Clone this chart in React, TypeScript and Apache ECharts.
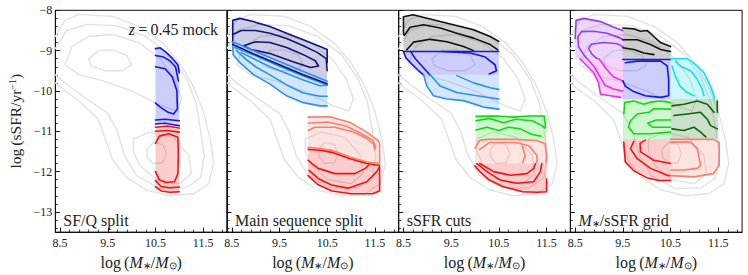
import React, { useEffect, useRef } from 'react';
import * as echarts from 'echarts';

type Pt = [number, number];

// ---------- axes ----------
const X_MIN = 8.4, X_MAX = 12.0, Y_MIN = -13.5, Y_MAX = -8;
const xMajor = [8.5, 9.5, 10.5, 11.5];
const xMinor = [8.7, 8.9, 9.1, 9.3, 9.7, 9.9, 10.1, 10.3, 10.7, 10.9, 11.1, 11.3, 11.7, 11.9];
const yMajor = [-13, -12, -11, -10, -9, -8];
const yMinor = [-13.4, -13.2, -12.8, -12.6, -12.4, -12.2, -11.8, -11.6, -11.4, -11.2, -10.8, -10.6, -10.4, -10.2, -9.8, -9.6, -9.4, -9.2, -8.8, -8.6, -8.4, -8.2];
const panelLabels = ['SF/Q split', 'Main sequence split', 'sSFR cuts', '{i|M}{s|∗}/sSFR grid'];

// ---------- grey background contours (full mock) ----------
const grey1: Pt[] = [[8.4,-8.65],[8.6,-8.25],[8.9,-8.1],[9.6,-8.15],[10.15,-8.4],[10.64,-8.8],[11.0,-9.3],[11.3,-9.9],[11.5,-10.5],[11.65,-11.2],[11.72,-11.8],[11.62,-12.3],[11.3,-12.55],[10.8,-12.6],[10.3,-12.45],[9.9,-12.15],[9.6,-11.7],[9.42,-11.1],[9.3,-10.7],[8.9,-10.25],[8.55,-9.95],[8.4,-9.8]];
const grey2: Pt[] = [[8.4,-8.95],[8.64,-8.5],[9.06,-8.35],[9.69,-8.38],[10.3,-8.65],[10.8,-9.1],[11.15,-9.7],[11.35,-10.3],[11.45,-11.0],[11.52,-11.6],[11.45,-12.15],[11.15,-12.4],[10.6,-12.42],[10.1,-12.1],[9.85,-11.6],[9.7,-11.0],[9.5,-10.55],[9.0,-10.15],[8.6,-9.8],[8.4,-9.6]];
const grey3sf: Pt[] = [[8.6,-9.35],[8.75,-8.9],[9.1,-8.65],[9.6,-8.6],[10.15,-8.8],[10.6,-9.2],[10.9,-9.7],[11.05,-10.2],[10.95,-10.5],[10.6,-10.35],[10.0,-10.0],[9.4,-9.75],[8.9,-9.6],[8.6,-9.35]];
const grey3q: Pt[] = [[10.04,-11.19],[10.38,-11.02],[10.87,-11.15],[11.2,-11.6],[11.25,-12.05],[11.0,-12.3],[10.52,-12.2],[10.17,-11.84],[10.04,-11.5],[10.04,-11.19]];
const grey4sf: Pt[] = [[9.1,-9.2],[9.3,-9.0],[9.6,-8.98],[9.9,-9.12],[10.0,-9.35],[9.8,-9.5],[9.45,-9.5],[9.15,-9.38],[9.1,-9.2]];
const grey4q: Pt[] = [[10.32,-11.45],[10.45,-11.28],[10.65,-11.32],[10.73,-11.55],[10.65,-11.78],[10.45,-11.8],[10.33,-11.65],[10.32,-11.45]];

// ---------- panel 1: SF/Q split ----------
const p1BlueShade: Pt[] = [[10.5,-8.93],[10.6,-8.92],[10.75,-9.08],[10.9,-9.25],[11.0,-9.42],[11.0,-10.78],[10.75,-10.8],[10.5,-10.83]];
const p1BlueOutTop: Pt[] = [[10.5,-8.95],[10.6,-8.93],[10.73,-9.05],[10.86,-9.2],[10.97,-9.35],[11.0,-9.55]];
const p1BlueOutBot: Pt[] = [[10.5,-10.82],[10.7,-10.8],[10.85,-10.83],[11.0,-10.86]];
const p1BlueMidTop: Pt[] = [[10.5,-9.12],[10.65,-9.15],[10.8,-9.25],[10.92,-9.4],[10.98,-9.75]];
const p1BlueMidBot: Pt[] = [[10.5,-10.72],[10.7,-10.7],[11.0,-10.74]];
const p1BlueIn: Pt[] = [[10.5,-9.4],[10.7,-9.45],[10.85,-9.65],[10.95,-10.0],[10.96,-10.45],[10.88,-10.57],[10.75,-10.52],[10.6,-10.4],[10.5,-10.3]];
const p1RedShade: Pt[] = [[10.5,-10.88],[11.0,-10.9],[11.0,-12.52],[10.75,-12.52],[10.6,-12.48],[10.5,-12.4]];
const p1RedOutTop: Pt[] = [[10.5,-10.9],[10.75,-10.87],[11.0,-10.92]];
const p1RedOutBot: Pt[] = [[10.5,-12.38],[10.62,-12.48],[10.8,-12.51],[11.0,-12.5]];
const p1RedMidTop: Pt[] = [[10.5,-11.0],[10.75,-10.98],[11.0,-11.02]];
const p1RedMidBot: Pt[] = [[10.5,-12.22],[10.62,-12.37],[10.8,-12.4],[11.0,-12.38]];
const p1RedIn: Pt[] = [[10.5,-11.3],[10.58,-11.12],[10.78,-11.06],[10.97,-11.15],[10.98,-11.6],[10.97,-12.05],[10.9,-12.25],[10.72,-12.27],[10.58,-12.2],[10.5,-12.0]];

// ---------- panel 2: main sequence split ----------
const p2NavyShade: Pt[] = [[8.52,-8.85],[8.52,-8.25],[8.67,-8.2],[8.95,-8.28],[9.3,-8.4],[9.65,-8.57],[10.0,-8.73],[10.35,-8.9],[10.5,-8.97],[10.5,-9.8],[10.0,-9.58],[9.5,-9.33],[9.0,-9.08]];
const p2NavyOut: Pt[] = [[8.52,-8.85],[8.52,-8.25],[8.67,-8.2],[8.95,-8.28],[9.3,-8.4],[9.65,-8.57],[10.0,-8.73],[10.35,-8.9],[10.5,-8.97],[10.5,-9.3]];
const p2NavyMid: Pt[] = [[8.52,-8.6],[8.7,-8.5],[9.0,-8.5],[9.3,-8.57],[9.65,-8.7],[10.0,-8.88],[10.3,-9.05],[10.48,-9.2],[10.5,-9.5]];
const p2NavyIn: Pt[] = [[8.75,-8.88],[9.0,-8.78],[9.3,-8.8],[9.65,-8.92],[10.0,-9.1],[10.25,-9.25],[10.32,-9.38],[10.15,-9.42],[9.8,-9.28],[9.3,-9.07],[8.9,-8.97],[8.75,-8.88]];
const p2NavyRidge: Pt[] = [[8.52,-8.85],[9.0,-9.1],[9.5,-9.35],[10.0,-9.6],[10.5,-9.82]];
const p2BlueRidgeA: Pt[] = [[8.52,-8.78],[9.0,-9.02],[9.5,-9.27],[10.0,-9.52],[10.5,-9.76]];
const p2BlueRidgeB: Pt[] = [[8.56,-8.92],[9.0,-9.13],[9.5,-9.39],[10.0,-9.63],[10.5,-9.85]];
const p2BlueShade: Pt[] = [[8.52,-8.85],[9.0,-9.1],[9.5,-9.35],[10.0,-9.6],[10.5,-9.82],[10.5,-10.37],[10.35,-10.37],[10.0,-10.29],[9.65,-10.12],[9.3,-9.83],[8.95,-9.59],[8.67,-9.3],[8.53,-9.1]];
const p2BlueOut: Pt[] = [[8.52,-8.8],[8.53,-9.1],[8.67,-9.3],[8.95,-9.59],[9.3,-9.83],[9.65,-10.12],[10.0,-10.29],[10.35,-10.37],[10.5,-10.37]];
const p2BlueMid: Pt[] = [[8.6,-9.0],[8.78,-9.2],[9.0,-9.4],[9.3,-9.6],[9.65,-9.85],[10.0,-10.05],[10.35,-10.13],[10.5,-10.13]];
const p2BlueIn: Pt[] = [[8.7,-9.05],[9.3,-9.4],[10.0,-9.73],[10.35,-9.87],[10.5,-9.86]];
const p2SalShade: Pt[] = [[10.1,-10.65],[10.56,-10.64],[10.98,-10.78],[11.33,-11.02],[11.57,-11.23],[11.6,-11.3],[11.6,-11.84],[11.4,-11.76],[11.05,-11.68],[10.7,-11.6],[10.35,-11.47],[10.1,-11.43]];
const p2SalOut: Pt[] = [[10.1,-10.65],[10.56,-10.64],[10.98,-10.78],[11.33,-11.02],[11.57,-11.23],[11.6,-11.3],[11.6,-11.8]];
const p2SalMid: Pt[] = [[10.1,-10.98],[10.24,-10.9],[10.66,-10.9],[11.05,-11.02],[11.33,-11.18],[11.47,-11.31],[11.5,-11.45]];
const p2SalIn: Pt[] = [[10.1,-10.8],[10.5,-10.77],[10.9,-10.87],[11.2,-11.05],[11.45,-11.22],[11.52,-11.4]];
const p2SalRidge: Pt[] = [[10.1,-11.4],[10.35,-11.43],[10.63,-11.48],[10.98,-11.64],[11.33,-11.76],[11.6,-11.8]];
const p2RedRidge: Pt[] = [[10.1,-11.45],[10.35,-11.47],[10.63,-11.53],[10.98,-11.68],[11.33,-11.8],[11.6,-11.85]];
const p2RedShade: Pt[] = [[10.1,-11.43],[10.35,-11.47],[10.63,-11.53],[10.98,-11.68],[11.33,-11.8],[11.6,-11.85],[11.6,-12.48],[11.45,-12.55],[11.0,-12.55],[10.6,-12.48],[10.3,-12.32],[10.1,-12.1]];
const p2RedOut: Pt[] = [[10.1,-12.1],[10.3,-12.32],[10.6,-12.48],[11.0,-12.55],[11.45,-12.55],[11.6,-12.48],[11.6,-11.9]];
const p2RedMid: Pt[] = [[10.12,-11.97],[10.31,-12.17],[10.59,-12.33],[10.94,-12.41],[11.33,-12.25],[11.54,-12.0],[11.6,-11.88]];
const p2RedIn: Pt[] = [[10.1,-11.72],[10.31,-11.92],[10.66,-12.05],[11.08,-12.05],[11.3,-11.92],[11.37,-11.84]];

// ---------- panel 3: sSFR cuts ----------
const p3BlackShade: Pt[] = [[8.5,-9.0],[8.5,-8.16],[8.7,-8.11],[9.27,-8.28],[9.97,-8.48],[10.32,-8.65],[10.5,-8.77],[10.5,-9.0]];
const p3BlackOut: Pt[] = [[8.5,-8.6],[8.5,-8.16],[8.7,-8.11],[9.27,-8.28],[9.97,-8.48],[10.32,-8.65],[10.5,-8.77]];
const p3BlackMid: Pt[] = [[8.52,-8.62],[8.64,-8.42],[8.92,-8.36],[9.27,-8.44],[9.62,-8.57],[9.97,-8.69],[10.32,-8.85],[10.48,-8.98]];
const p3BlackIn: Pt[] = [[8.57,-8.98],[8.71,-8.79],[9.06,-8.72],[9.41,-8.78],[9.76,-8.9],[9.97,-9.0]];
const p3BlueShade: Pt[] = [[8.5,-9.0],[10.5,-9.0],[10.5,-9.6],[8.92,-9.6],[8.82,-9.5],[8.68,-9.34],[8.55,-9.18]];
const p3BlueTop: Pt[] = [[8.5,-9.02],[10.5,-9.02]];
const p3BlueOut: Pt[] = [[8.5,-9.02],[8.55,-9.18],[8.68,-9.34],[8.82,-9.5],[8.92,-9.6]];
const p3BlueMid: Pt[] = [[8.65,-9.02],[8.75,-9.2],[8.9,-9.4],[9.05,-9.6]];
const p3BlueIn: Pt[] = [[9.3,-9.02],[9.9,-9.06],[10.2,-9.15],[10.42,-9.35],[10.45,-9.5],[10.3,-9.58]];
const p3LBShade: Pt[] = [[8.92,-9.6],[10.5,-9.6],[10.5,-10.45],[10.18,-10.4],[9.76,-10.24],[9.41,-10.2],[9.13,-10.12],[8.99,-9.88]];
const p3LBOut: Pt[] = [[8.92,-9.6],[8.99,-9.88],[9.13,-10.12],[9.41,-10.2],[9.76,-10.24],[10.18,-10.4],[10.5,-10.45]];
const p3LBMid: Pt[] = [[9.06,-9.6],[9.27,-9.88],[9.62,-10.04],[10.04,-10.12],[10.5,-10.2]];
const p3LBIn: Pt[] = [[9.62,-9.62],[9.97,-9.8],[10.32,-9.92],[10.5,-9.96]];
const p3GreenShade: Pt[] = [[10.02,-10.6],[11.5,-10.6],[11.5,-11.2],[10.02,-11.2]];
const p3GreenOut: Pt[] = [[10.02,-10.63],[10.45,-10.62],[10.8,-10.65],[11.15,-10.62],[11.45,-10.62],[11.48,-10.9]];
const p3GreenMid: Pt[] = [[10.02,-10.74],[10.3,-10.68],[10.6,-10.79],[10.85,-10.7],[11.2,-10.74],[11.4,-10.86],[11.47,-10.92]];
const p3GreenIn: Pt[] = [[10.02,-10.97],[10.25,-10.9],[10.5,-10.98],[10.7,-10.9],[10.95,-10.94],[11.2,-11.08],[11.38,-11.12]];
const p3SalShade: Pt[] = [[10.0,-11.2],[11.5,-11.2],[11.5,-11.8],[10.0,-11.8]];
const p3SalOut: Pt[] = [[10.0,-11.42],[10.1,-11.22],[10.3,-11.2],[10.85,-11.2],[11.3,-11.23],[11.47,-11.31],[11.5,-11.6],[11.49,-11.78]];
const p3SalMid: Pt[] = [[10.1,-11.45],[10.3,-11.28],[10.85,-11.28],[11.13,-11.36],[11.3,-11.6],[11.3,-11.78]];
const p3SalIn: Pt[] = [[10.99,-11.36],[11.05,-11.6],[11.0,-11.78]];
const p3RedShade: Pt[] = [[10.0,-11.8],[11.5,-11.8],[11.5,-12.52],[11.0,-12.52],[10.58,-12.38],[10.3,-12.22],[10.1,-12.02],[10.0,-11.88]];
const p3RedOut: Pt[] = [[10.0,-11.86],[10.1,-12.0],[10.3,-12.21],[10.58,-12.37],[11.0,-12.5],[11.3,-12.51],[11.5,-12.5],[11.5,-12.18]];
const p3RedMid: Pt[] = [[10.04,-11.8],[10.25,-12.0],[10.53,-12.21],[10.88,-12.29],[11.23,-12.25],[11.37,-12.0],[11.4,-11.8]];
const p3RedIn: Pt[] = [[10.1,-11.8],[10.39,-12.0],[10.74,-12.09],[11.09,-12.05],[11.23,-11.92],[11.27,-11.8]];

// ---------- panel 4: M*/sSFR grid ----------
const p4PurShade: Pt[] = [[8.5,-9.2],[8.5,-8.22],[8.68,-8.2],[9.03,-8.28],[9.31,-8.42],[9.5,-8.5],[9.5,-9.2]];
const p4PurOut: Pt[] = [[8.5,-8.7],[8.52,-8.25],[8.68,-8.2],[9.03,-8.28],[9.31,-8.42],[9.5,-8.5]];
const p4PurMid: Pt[] = [[8.75,-9.2],[8.68,-9.1],[8.57,-8.9],[8.56,-8.65],[8.63,-8.53],[8.89,-8.52],[9.17,-8.57],[9.45,-8.69],[9.5,-8.73]];
const p4PurIn: Pt[] = [[8.96,-9.2],[8.86,-9.1],[8.78,-8.95],[8.84,-8.84],[9.1,-8.8],[9.38,-8.83],[9.5,-8.9]];
const p4MagShade: Pt[] = [[8.6,-9.2],[9.5,-9.2],[9.5,-10.2],[9.24,-10.13],[9.03,-10.09],[8.99,-9.8],[8.89,-9.55],[8.75,-9.38]];
const p4MagOut: Pt[] = [[8.6,-9.2],[8.75,-9.38],[8.89,-9.55],[8.99,-9.8],[9.03,-10.08],[9.24,-10.12],[9.45,-10.16]];
const p4MagMid: Pt[] = [[8.75,-9.2],[8.9,-9.4],[9.0,-9.6],[9.12,-9.85],[9.3,-9.95],[9.5,-10.0]];
const p4MagIn: Pt[] = [[9.0,-9.2],[9.15,-9.45],[9.3,-9.65],[9.5,-9.75]];
const p4BlkShade: Pt[] = [[9.5,-9.2],[9.5,-8.44],[9.73,-8.46],[9.87,-8.52],[10.01,-8.5],[10.15,-8.65],[10.29,-8.8],[10.5,-8.9],[10.5,-9.2]];
const p4BlkOut: Pt[] = [[9.5,-8.44],[9.73,-8.46],[9.87,-8.52],[10.01,-8.5],[10.15,-8.65],[10.29,-8.8],[10.5,-8.9]];
const p4BlkMid: Pt[] = [[9.5,-8.73],[9.8,-8.73],[10.08,-8.85],[10.29,-8.97],[10.5,-9.02]];
const p4BlkIn: Pt[] = [[9.5,-8.93],[9.73,-8.97],[9.94,-9.06],[10.15,-9.1]];
const p4BluShade: Pt[] = [[9.5,-9.2],[10.5,-9.2],[10.5,-10.2],[9.5,-10.2]];
const p4BluTop: Pt[] = [[9.5,-9.22],[10.5,-9.22]];
const p4BluIn: Pt[] = [[9.5,-9.75],[9.55,-9.88],[9.7,-10.0],[9.97,-10.12],[10.29,-10.16],[10.46,-10.12],[10.46,-9.71],[10.43,-9.38],[10.29,-9.26],[9.8,-9.26],[9.55,-9.3]];
const p4CyaShade: Pt[] = [[10.5,-9.2],[10.85,-9.2],[11.06,-9.38],[11.2,-9.55],[11.34,-9.88],[11.41,-10.12],[11.42,-10.2],[10.5,-10.2]];
const p4CyaOut: Pt[] = [[10.5,-9.2],[10.85,-9.2],[11.06,-9.38],[11.2,-9.55],[11.34,-9.88],[11.41,-10.12],[11.42,-10.2]];
const p4CyaMid: Pt[] = [[10.6,-9.26],[10.7,-9.38],[10.92,-9.5],[11.06,-9.71],[11.16,-9.95],[11.2,-10.12]];
const p4CyaIn: Pt[] = [[10.53,-9.38],[10.6,-9.63],[10.7,-9.88],[10.85,-10.04],[10.99,-10.12]];
const p4GrnShade: Pt[] = [[9.5,-10.2],[10.5,-10.2],[10.5,-11.2],[9.5,-11.2]];
const p4GrnA: Pt[] = [[9.52,-10.57],[9.54,-10.29],[9.73,-10.25],[9.94,-10.33],[10.11,-10.27],[10.3,-10.25],[10.5,-10.29]];
const p4GrnB: Pt[] = [[10.5,-10.45],[10.15,-10.44],[10.05,-10.53],[9.8,-10.57],[9.66,-10.74],[9.62,-10.9],[9.73,-11.06],[10.08,-11.06],[10.5,-11.02]];
const p4GrnC: Pt[] = [[10.5,-10.72],[10.2,-10.72],[10.02,-10.8],[10.12,-10.9],[10.5,-10.9]];
const p4DgrShade: Pt[] = [[10.5,-10.2],[11.5,-10.2],[11.5,-11.2],[10.5,-11.2]];
const p4DgrA: Pt[] = [[10.53,-10.37],[10.78,-10.33],[11.06,-10.25],[11.27,-10.33],[11.41,-10.53]];
const p4DgrB: Pt[] = [[10.57,-10.61],[10.85,-10.57],[11.13,-10.53],[11.27,-10.7],[11.34,-10.86],[11.48,-10.94]];
const p4DgrC: Pt[] = [[10.53,-10.94],[10.78,-10.98],[10.99,-10.9],[11.13,-11.02],[11.24,-11.14]];
const p4DgrD: Pt[] = [[11.48,-10.25],[11.48,-10.53]];
const p4RedShade: Pt[] = [[9.5,-11.2],[10.5,-11.2],[10.5,-12.22],[10.2,-12.2],[10.0,-12.1],[9.73,-11.95],[9.55,-11.76],[9.5,-11.45]];
const p4RedOut: Pt[] = [[9.52,-11.27],[9.55,-11.76],[9.73,-11.98],[10.0,-12.15],[10.25,-12.22],[10.5,-12.22]];
const p4RedMid: Pt[] = [[9.73,-11.25],[9.66,-11.43],[9.8,-11.68],[10.08,-11.92],[10.43,-12.09],[10.5,-12.1]];
const p4RedIn: Pt[] = [[9.97,-11.22],[9.86,-11.3],[9.87,-11.51],[10.15,-11.72],[10.5,-11.8]];
const p4SalShade: Pt[] = [[10.5,-11.2],[11.4,-11.2],[11.52,-11.27],[11.52,-11.84],[11.4,-12.05],[10.99,-12.13],[10.5,-12.1]];
const p4SalOut: Pt[] = [[10.5,-11.2],[11.4,-11.2],[11.52,-11.27],[11.52,-11.84],[11.4,-12.05],[10.99,-12.13],[10.5,-12.1]];
const p4SalMid: Pt[] = [[10.5,-11.27],[10.92,-11.27],[11.06,-11.43],[11.1,-11.68],[11.13,-11.84],[11.06,-11.92],[10.78,-11.96],[10.5,-11.96]];

// ---------- styling ----------
const FONT = 'Liberation Serif';
const TXT = '#222';
const GREY = '#e2e2e2';
const COL: Record<string, string> = {
  blue: '#1414f0', red: '#f01414', navy: '#14147a', lblue: '#2a90f5', salmon: '#f7806f',
  black: '#111111', green: '#14d814', dgreen: '#0b660b', cyan: '#10e0f0', purple: '#9a3cf0', magenta: '#f02cf0',
};
const SHADE_ALPHA = 0.21;

type Layer = [number, Pt[], string, 'fill' | 'line'];
const LAYERS: Layer[] = [];
[0, 1, 2, 3].forEach((p) => {
  [grey1, grey2, grey3sf, grey3q, grey4sf, grey4q].forEach((g) => LAYERS.push([p, g, 'grey', 'line']));
});
const add = (p: number, col: string, shade: Pt[] | null, lines: Pt[][]) => {
  if (shade) LAYERS.push([p, shade, col, 'fill']);
  lines.forEach((l) => LAYERS.push([p, l, col, 'line']));
};
add(0, 'blue', p1BlueShade, [p1BlueOutTop, p1BlueOutBot, p1BlueMidTop, p1BlueMidBot, p1BlueIn]);
add(0, 'red', p1RedShade, [p1RedOutTop, p1RedOutBot, p1RedMidTop, p1RedMidBot, p1RedIn]);
add(1, 'navy', p2NavyShade, []);
add(1, 'lblue', p2BlueShade, []);
add(1, 'salmon', p2SalShade, []);
add(1, 'red', p2RedShade, []);
add(1, 'navy', null, [p2NavyOut, p2NavyMid, p2NavyIn]);
add(1, 'lblue', null, [p2BlueOut, p2BlueMid, p2BlueIn, p2BlueRidgeA, p2BlueRidgeB]);
add(1, 'navy', null, [p2NavyRidge]);
add(1, 'salmon', null, [p2SalOut, p2SalMid, p2SalIn, p2SalRidge]);
add(1, 'red', null, [p2RedOut, p2RedMid, p2RedIn, p2RedRidge]);
add(2, 'black', p3BlackShade, [p3BlackOut, p3BlackMid, p3BlackIn]);
add(2, 'blue', p3BlueShade, [p3BlueTop, p3BlueOut, p3BlueMid, p3BlueIn]);
add(2, 'lblue', p3LBShade, [p3LBOut, p3LBMid, p3LBIn]);
add(2, 'green', p3GreenShade, [p3GreenOut, p3GreenMid, p3GreenIn]);
add(2, 'salmon', p3SalShade, [p3SalOut, p3SalMid, p3SalIn]);
add(2, 'red', p3RedShade, [p3RedOut, p3RedMid, p3RedIn]);
add(3, 'purple', p4PurShade, [p4PurOut, p4PurMid, p4PurIn]);
add(3, 'magenta', p4MagShade, [p4MagOut, p4MagMid, p4MagIn]);
add(3, 'black', p4BlkShade, [p4BlkOut, p4BlkMid, p4BlkIn]);
add(3, 'blue', p4BluShade, [p4BluTop, p4BluIn]);
add(3, 'cyan', p4CyaShade, [p4CyaOut, p4CyaMid, p4CyaIn]);
add(3, 'green', p4GrnShade, [p4GrnA, p4GrnB, p4GrnC]);
add(3, 'dgreen', p4DgrShade, [p4DgrA, p4DgrB, p4DgrC, p4DgrD]);
add(3, 'red', p4RedShade, [p4RedOut, p4RedMid, p4RedIn]);
add(3, 'salmon', p4SalShade, [p4SalOut, p4SalMid]);

function rgba(hex: string, a: number) {
  const n = parseInt(hex.slice(1), 16);
  return `rgba(${(n >> 16) & 255},${(n >> 8) & 255},${n & 255},${a})`;
}

const GRID_LEFT = 55.3, GRID_W = 171.7, GRID_TOP = 10.3, GRID_H = 223;

function buildOption() {
  const grids: any[] = [], xAxes: any[] = [], yAxes: any[] = [], graphics: any[] = [];
  for (let p = 0; p < 4; p++) {
    grids.push({ left: GRID_LEFT + p * GRID_W, top: GRID_TOP, width: GRID_W, height: GRID_H, show: true, borderColor: '#111', borderWidth: 1, backgroundColor: 'transparent' });
    xAxes.push({
      type: 'value', gridIndex: p, min: X_MIN, max: X_MAX, position: 'bottom',
      axisLine: { show: true, lineStyle: { color: '#111', width: 1 } },
      axisTick: { show: true, inside: true, length: 4.5, customValues: xMajor, lineStyle: { color: '#111', width: 1 } },
      axisLabel: { show: true, customValues: xMajor, margin: 5, fontFamily: FONT, fontSize: 12, color: TXT, formatter: (v: number) => v.toFixed(1) },
      splitLine: { show: false },
      name: 'log\u2009({i|M}{s|∗}/{i|M}{s|⊙})', nameLocation: 'middle', nameGap: 7,
      nameTextStyle: { fontFamily: FONT, fontSize: 16, color: TXT, rich: { i: { fontFamily: FONT, fontSize: 16, fontStyle: 'italic', color: TXT }, s: { fontFamily: FONT, fontSize: 10, color: TXT, verticalAlign: 'bottom', padding: [6, 0, 0, 0] } } },
    });
    xAxes.push({
      type: 'value', gridIndex: p, min: X_MIN, max: X_MAX, position: 'bottom',
      axisLine: { show: false }, axisLabel: { show: false }, splitLine: { show: false },
      axisTick: { show: true, inside: true, length: 2.5, customValues: xMinor, lineStyle: { color: '#111', width: 0.8 } },
    });
    yAxes.push({
      type: 'value', gridIndex: p, min: Y_MIN, max: Y_MAX, position: 'left',
      axisLine: { show: true, lineStyle: { color: '#111', width: 1 } },
      axisTick: { show: true, inside: true, length: 4.5, customValues: yMajor, lineStyle: { color: '#111', width: 1 } },
      axisLabel: { show: p === 0, customValues: yMajor, margin: 3, fontFamily: FONT, fontSize: 12, color: TXT, formatter: (v: number) => (v < 0 ? '\u2212' + Math.abs(v) : String(v)) },
      splitLine: { show: false },
      ...(p === 0 ? {
        name: 'log\u2009(sSFR/yr{sup|\u22121})', nameLocation: 'middle', nameGap: 32, nameRotate: 90,
        nameTextStyle: { fontFamily: FONT, fontSize: 15.5, color: TXT, rich: { sup: { fontFamily: FONT, fontSize: 10, color: TXT, verticalAlign: 'top', padding: [0, 0, 6, 0] } } },
      } : {}),
    });
    yAxes.push({
      type: 'value', gridIndex: p, min: Y_MIN, max: Y_MAX, position: 'left',
      axisLine: { show: false }, axisLabel: { show: false }, splitLine: { show: false },
      axisTick: { show: true, inside: true, length: 2.5, customValues: yMinor, lineStyle: { color: '#111', width: 0.8 } },
    });
    graphics.push({
      type: 'text', x: GRID_LEFT + p * GRID_W + 8, y: 220, z: 100,
      style: {
        text: panelLabels[p], fill: TXT, fontFamily: FONT, fontSize: 16,
        textVerticalAlign: 'middle', verticalAlign: 'middle', textAlign: 'left', align: 'left',
        rich: { i: { fontFamily: FONT, fontSize: 16, fontStyle: 'italic', fill: TXT }, s: { fontFamily: FONT, fontSize: 10, fill: TXT, verticalAlign: 'bottom', padding: [6, 0, 0, 0] } },
      },
    });
  }
  graphics.push({
    type: 'text', x: GRID_LEFT + GRID_W - 9, y: 29, z: 100,
    style: {
      text: '{i|z}\u2009=\u20090.45 mock', fill: TXT, fontFamily: FONT, fontSize: 16,
      textVerticalAlign: 'middle', verticalAlign: 'middle', textAlign: 'right', align: 'right',
      rich: { i: { fontFamily: FONT, fontSize: 16, fontStyle: 'italic', fill: TXT } },
    },
  });

  const series = LAYERS.map(([p, pts, col, kind], idx) => {
    const isGrey = col === 'grey';
    const color = isGrey ? GREY : COL[col];
    return {
      type: 'custom', name: `${col}-${kind}-${idx}`, coordinateSystem: 'cartesian2d',
      xAxisIndex: p * 2, yAxisIndex: p * 2, data: pts, encode: { x: 0, y: 1 },
      silent: true, clip: true, z: isGrey ? 1 : kind === 'fill' ? 2 : 3,
      renderItem: (params: any, api: any) => {
        if (params.dataIndex !== 0) return null;
        const points = pts.map((q) => api.coord(q));
        if (kind === 'fill') {
          return { type: 'polygon', shape: { points }, style: { fill: rgba(color, SHADE_ALPHA), stroke: null } };
        }
        return { type: 'polyline', shape: { points }, style: { fill: null, stroke: color, lineWidth: isGrey ? 1.4 : 1.6, lineJoin: 'round', lineCap: 'round' } };
      },
    };
  });

  return { animation: false, backgroundColor: '#fff', textStyle: { fontFamily: FONT }, grid: grids, xAxis: xAxes, yAxis: yAxes, series, graphic: graphics };
}

export default function App() {
  const ref = useRef<HTMLDivElement>(null);
  useEffect(() => {
    const chart = echarts.init(ref.current!, undefined, { renderer: 'svg' });
    chart.setOption(buildOption() as any);
    return () => chart.dispose();
  }, []);
  return <div ref={ref} style={{ position: 'fixed', left: 0, top: 0, width: 748, height: 275 }} />;
}
